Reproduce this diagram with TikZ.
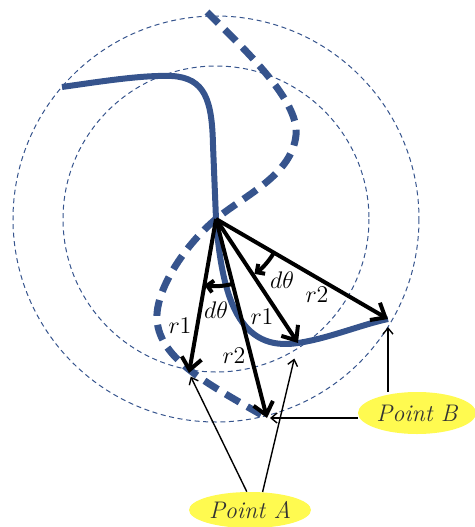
\documentclass[tikz,border=0pt]{standalone}
\usepackage{amsmath}
\usepackage{xcolor}
\usepackage{tikz}
\usetikzlibrary{arrows.meta, positioning, calc, shapes.geometric}
\definecolor{curveblue}{RGB}{54,84,141}
\definecolor{tagyellow}{RGB}{255,250,80}

\begin{document}
\begin{tikzpicture}[%
  x=0.5pt, y=-0.5pt,
  every node/.style={align=center, font=\fontsize{13}{15}\selectfont},
  circ/.style={draw=curveblue, line width=0.5pt, dash pattern=on 2.5pt off 1.8pt},
  curve/.style={draw=curveblue, line width=3pt},
  dcurve/.style={draw=curveblue, line width=3.5pt, dash pattern=on 8pt off 4.5pt},
  arr/.style={-{Straight Barb[length=6pt, width=10pt]}, line width=2pt},
  darc/.style={-{Straight Barb[length=3pt, width=6pt]}, line width=2pt},
  sarr/.style={-{Straight Barb[length=3pt, width=5pt]}, line width=0.7pt},
  tag/.style={ellipse, fill=tagyellow, inner sep=0pt, text=black!80, font=\large\itshape}
]
\useasboundingbox (0,0) rectangle (475,527);

% 1. Pivot and end points of the radius vectors
\coordinate (pv) at (216,219);
\coordinate (a1) at (189,373);
\coordinate (a2) at (298,343);
\coordinate (b1) at (388,319);
\coordinate (b2) at (267,418);

% 2. Circles of radius r1 and r2
\draw[circ] (pv) circle[radius=153];
\draw[circ] (pv) circle[radius=203];

% 3. Curves
\draw[curve] (62,87) .. controls (110,80) and (145,75) .. (172,76) .. controls (205,78) and (212,100) .. (213,145) -- (pv) .. controls (222,300) and (240,352) .. (a2) .. controls (330,338) and (360,325) .. (b1);
\draw[dcurve] (207,12) .. controls (240,45) and (300,100) .. (296,135) .. controls (292,175) and (245,195) .. (pv) .. controls (185,245) and (155,290) .. (157,320) .. controls (160,360) and (210,385) .. (b2);

% 4. Radius vectors and angle steps
\draw[arr] (pv) -- (a1);
\draw[arr] (pv) -- (b2);
\draw[arr] (pv) -- (a2);
\draw[arr] (pv) -- (b1);
\draw[darc] ([shift={(76:67)}]pv) arc[start angle=76, end angle=100, radius=67];
\draw[darc] ([shift={(31:67)}]pv) arc[start angle=31, end angle=55, radius=67];

\node (dth1) at (282,280) {$d\theta$};
\node (dth2) at (216,310) {$d\theta$};
\node (r1a) at (180,326) {$r1$};
\node (r1b) at (262,317) {$r1$};
\node (r2a) at (317,295) {$r2$};
\node (r2b) at (234,356) {$r2$};

% 5. Point labels
\node[tag, minimum width=61pt, minimum height=18pt] (ptA) at (250,510) {Point A};
\node[tag, minimum width=59pt, minimum height=21pt] (ptB) at (417,413) {Point B};
\draw[sarr, shorten >=2pt] (ptA.100) -- (a1);
\draw[sarr, shorten >=8pt] (ptA.55) -- (a2);
\draw[sarr, shorten >=1.5pt] (ptB.west |- b2) -- (b2);
\draw[sarr, shorten >=4pt] (ptB.north -| b1) -- (b1);

\end{tikzpicture}
\end{document}
